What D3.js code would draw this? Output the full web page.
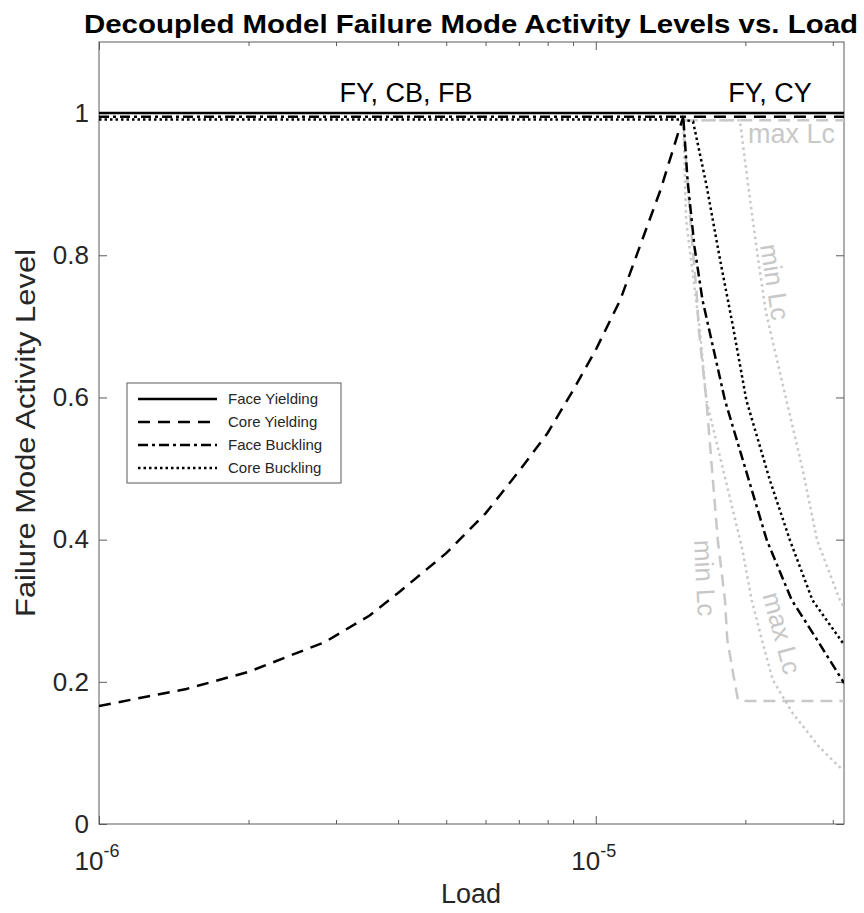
<!DOCTYPE html>
<html>
<head>
<meta charset="utf-8">
<script src="https://cdn.jsdelivr.net/npm/d3@7"></script>
<style>
  body { margin: 0; background: #fff; }
  text { font-family: "Liberation Sans", Helvetica, Arial, sans-serif; }
</style>
</head>
<body>
<div id="chart"></div>
<script>
// [load, activity level]
const faceYielding = [[1e-6, 1], [3.16e-5, 1]]
const coreYielding = [[1e-6, 0.166], [1.5e-6, 0.19], [2e-6, 0.214], [2.85e-6, 0.256], [3.5e-6, 0.293],
  [4e-6, 0.325], [5e-6, 0.381], [6e-6, 0.437], [7e-6, 0.496], [8e-6, 0.55], [9e-6, 0.61],
  [1e-5, 0.667], [1.12e-5, 0.737], [1.35e-5, 0.892], [1.5e-5, 0.995], [3.16e-5, 0.995]]
const faceBuckling = [[1e-6, 0.995], [1.5e-5, 0.995], [1.53e-5, 0.906], [1.58e-5, 0.812], [1.64e-5, 0.737],
  [1.82e-5, 0.596], [2.21e-5, 0.399], [2.48e-5, 0.315], [2.79e-5, 0.259], [3.13e-5, 0.203], [3.16e-5, 0.198]]
const coreBuckling = [[1e-6, 0.991], [1.5e-5, 0.991], [1.57e-5, 0.988], [1.67e-5, 0.899], [1.78e-5, 0.793],
  [1.89e-5, 0.699], [2.01e-5, 0.596], [2.24e-5, 0.484], [2.46e-5, 0.399], [2.73e-5, 0.315],
  [3.14e-5, 0.255], [3.16e-5, 0.253]]

// grey bounds (min / max Lc)
const maxLcDashed = [[1.5e-5, 0.99], [3.16e-5, 0.99]]
const minLcDashed = [[1.5e-5, 0.99], [1.55e-5, 0.85], [1.6e-5, 0.737], [1.61e-5, 0.699], [1.67e-5, 0.596],
  [1.76e-5, 0.40], [1.82e-5, 0.315], [1.84e-5, 0.259], [1.9e-5, 0.203], [1.93e-5, 0.177],
  [1.95e-5, 0.173], [3.16e-5, 0.173]]
const minLcDotted = [[1.5e-5, 0.99], [1.95e-5, 0.99], [2.02e-5, 0.906], [2.11e-5, 0.807], [2.2e-5, 0.72],
  [2.42e-5, 0.596], [2.61e-5, 0.498], [2.79e-5, 0.399], [3.1e-5, 0.315], [3.16e-5, 0.305]]
const maxLcDotted = [[1.5e-5, 0.99], [1.52e-5, 0.849], [1.62e-5, 0.695], [1.67e-5, 0.596], [1.97e-5, 0.388],
  [2.06e-5, 0.315], [2.16e-5, 0.259], [2.27e-5, 0.203], [2.49e-5, 0.156], [2.82e-5, 0.108],
  [3.14e-5, 0.076], [3.16e-5, 0.075]]

const xDomain = [1e-6, 3.16e-5]
const xMajor = [1e-6, 1e-5]
const xMinor = [2e-6, 3e-6, 4e-6, 5e-6, 6e-6, 7e-6, 8e-6, 9e-6, 2e-5, 3e-5]
const xLabels = [["10", "-6"], ["10", "-5"]]
const yDomain = [0, 1.1]
const yTicks = [0, 0.2, 0.4, 0.6, 0.8, 1]
const yLabels = ["0", "0.2", "0.4", "0.6", "0.8", "1"]
const legendNames = ["Face Yielding", "Core Yielding", "Face Buckling", "Core Buckling"]

const w = 864
const h = 913
const L = 99, R = 844, T = 42, B = 824
const axisColor = '#5a5a5a'
const grey = '#c8c8c8'

const x = d3.scaleLog().domain(xDomain).range([L, R])
const y = d3.scaleLinear().domain(yDomain).range([B, T])

const svg = d3.select('#chart').append('svg')
  .attr('width', w)
  .attr('height', h)

svg.append('defs').append('clipPath')
  .attr('id', 'plot')
  .append('rect')
  .attr('x', L).attr('y', T)
  .attr('width', R - L).attr('height', B - T)

// ticks (inward, on all four sides)
function tickAxis(axis, tr) {
  const g = svg.append('g').attr('transform', tr).call(axis)
  g.select('.domain').remove()
  g.selectAll('line').attr('stroke', axisColor)
  g.selectAll('text').remove()
  return g
}
tickAxis(d3.axisBottom(x).tickValues(xMajor).tickSizeInner(-8).tickSizeOuter(0), `translate(0,${B})`)
tickAxis(d3.axisBottom(x).tickValues(xMinor).tickSizeInner(-4).tickSizeOuter(0), `translate(0,${B})`)
tickAxis(d3.axisTop(x).tickValues(xMajor).tickSizeInner(-8).tickSizeOuter(0), `translate(0,${T})`)
tickAxis(d3.axisTop(x).tickValues(xMinor).tickSizeInner(-4).tickSizeOuter(0), `translate(0,${T})`)
tickAxis(d3.axisRight(y).tickValues(yTicks).tickSizeInner(-8).tickSizeOuter(0), `translate(${R},0)`)

// left axis with labels
const yAxis = svg.append('g')
  .attr('transform', `translate(${L},0)`)
  .call(d3.axisLeft(y).tickValues(yTicks).tickSizeInner(-8).tickSizeOuter(0).tickPadding(10)
    .tickFormat((d, i) => yLabels[i]))
yAxis.select('.domain').remove()
yAxis.selectAll('line').attr('stroke', axisColor)
yAxis.selectAll('text')
  .attr('font-size', 26)
  .attr('fill', '#262626')
  .attr('font-family', '"Liberation Sans", Helvetica, Arial, sans-serif')

// x tick labels 10^n
const xl = svg.selectAll('.xlab')
  .data(xMajor)
  .enter()
  .append('text')
  .attr('class', 'xlab')
  .attr('x', d => x(d) - 2)
  .attr('y', 870)
  .attr('text-anchor', 'middle')
  .attr('font-size', 26)
  .attr('fill', '#262626')
xl.append('tspan').text((d, i) => xLabels[i][0])
xl.append('tspan')
  .attr('dy', -13)
  .attr('font-size', 18)
  .text((d, i) => xLabels[i][1])

// box
svg.append('rect')
  .attr('x', L).attr('y', T)
  .attr('width', R - L).attr('height', B - T)
  .attr('fill', 'none')
  .attr('stroke', axisColor)
  .attr('stroke-width', 1)

const line = d3.line().x(d => x(d[0])).y(d => y(d[1]))
const plot = svg.append('g').attr('clip-path', 'url(#plot)')

const greyLines = [
  {data: maxLcDashed, dash: '12,7'},
  {data: minLcDashed, dash: '12,7'},
  {data: minLcDotted, dash: '2.5,3.5'},
  {data: maxLcDotted, dash: '2.5,3.5'}
]
plot.selectAll('.grey')
  .data(greyLines)
  .enter()
  .append('path')
  .attr('class', 'grey')
  .attr('d', d => line(d.data))
  .attr('fill', 'none')
  .attr('stroke', grey)
  .attr('stroke-width', 2.5)
  .attr('stroke-dasharray', d => d.dash)

const series = [
  {data: faceYielding, dash: null},
  {data: coreYielding, dash: '12,8'},
  {data: faceBuckling, dash: '10,4,3,4'},
  {data: coreBuckling, dash: '2.5,3'}
]
plot.selectAll('.series')
  .data(series)
  .enter()
  .append('path')
  .attr('class', 'series')
  .attr('d', d => line(d.data))
  .attr('fill', 'none')
  .attr('stroke', 'black')
  .attr('stroke-width', 2.5)
  .attr('stroke-dasharray', d => d.dash)

// annotations
const notes = [
  {t: 'FY, CB, FB', x: 406, y: 102, c: 'black', a: 'middle'},
  {t: 'FY, CY', x: 770, y: 102, c: 'black', a: 'middle'},
  {t: 'max Lc', x: 748, y: 143, c: grey, a: 'start'}
]
plot.selectAll('.note')
  .data(notes)
  .enter()
  .append('text')
  .attr('class', 'note')
  .attr('x', d => d.x)
  .attr('y', d => d.y)
  .attr('text-anchor', d => d.a)
  .attr('font-family', '"DejaVu Sans", sans-serif')
  .attr('font-size', 27)
  .attr('fill', d => d.c)
  .text(d => d.t)

const rotNotes = [
  {t: 'min Lc', x: 775, y: 282, r: 81},
  {t: 'min Lc', x: 705, y: 578, r: 87},
  {t: 'max Lc', x: 782, y: 633, r: 75}
]
plot.selectAll('.rnote')
  .data(rotNotes)
  .enter()
  .append('text')
  .attr('class', 'rnote')
  .attr('transform', d => `translate(${d.x},${d.y}) rotate(${d.r})`)
  .attr('text-anchor', 'middle')
  .attr('dy', '0.35em')
  .attr('font-family', '"DejaVu Sans", sans-serif')
  .attr('font-size', 26)
  .attr('fill', grey)
  .text(d => d.t)

// legend
const lg = svg.append('g')
lg.append('rect')
  .attr('x', 127).attr('y', 383)
  .attr('width', 214).attr('height', 100)
  .attr('fill', 'white')
  .attr('stroke', axisColor)
const row = lg.selectAll('.row')
  .data(series)
  .enter()
  .append('g')
  .attr('transform', (d, i) => `translate(0,${399 + i * 23})`)
row.append('line')
  .attr('x1', 138).attr('x2', 217)
  .attr('stroke', 'black')
  .attr('stroke-width', 2.5)
  .attr('stroke-dasharray', d => d.dash)
row.append('text')
  .attr('x', 228)
  .attr('y', 5)
  .attr('font-size', 15)
  .attr('fill', '#262626')
  .text((d, i) => legendNames[i])

// titles
svg.append('text')
  .attr('x', 471).attr('y', 33)
  .attr('text-anchor', 'middle')
  .attr('font-size', 26)
  .attr('font-weight', 'bold')
  .attr('textLength', 774)
  .attr('lengthAdjust', 'spacingAndGlyphs')
  .text('Decoupled Model Failure Mode Activity Levels vs. Load')

svg.append('text')
  .attr('x', 471).attr('y', 903)
  .attr('text-anchor', 'middle')
  .attr('font-size', 27)
  .attr('fill', '#262626')
  .text('Load')

svg.append('text')
  .attr('transform', `translate(35,${(T + B) / 2}) rotate(-90)`)
  .attr('text-anchor', 'middle')
  .attr('font-size', 27)
  .attr('fill', '#262626')
  .attr('textLength', 368)
  .attr('lengthAdjust', 'spacingAndGlyphs')
  .text('Failure Mode Activity Level')
</script>
</body>
</html>
